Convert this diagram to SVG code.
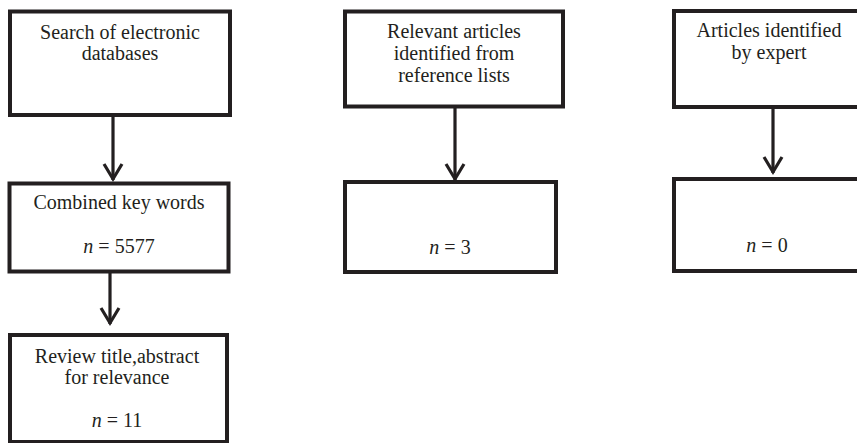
<svg xmlns="http://www.w3.org/2000/svg" width="857" height="443" viewBox="0 0 857 443">
<style>
.box{fill:#fff;stroke:#231f20;stroke-width:4}
.t{font-family:"Liberation Serif","Times New Roman",serif;font-size:20px;fill:#231f20;text-anchor:middle}
.i{font-style:italic}
.c{fill:none;stroke:#231f20;stroke-width:3.2}
</style>
<defs>
<marker id="ah" markerWidth="22" markerHeight="26" viewBox="-19 -13 22 26" refX="0" refY="0" orient="auto" markerUnits="userSpaceOnUse">
<path d="M-16,-9 L-1,0 L-16,9" fill="none" stroke="#231f20" stroke-width="3.2"/>
</marker>
</defs>
<rect width="857" height="443" fill="#fff"/>
<g id="connectors">
<line class="c" x1="113" y1="117" x2="113" y2="180" marker-end="url(#ah)"/>
<line class="c" x1="110" y1="273" x2="110" y2="324" marker-end="url(#ah)"/>
<line class="c" x1="455" y1="108" x2="455" y2="180" marker-end="url(#ah)"/>
<line class="c" x1="773" y1="108" x2="773" y2="173" marker-end="url(#ah)"/>
</g>
<g id="n1">
<rect class="box" x="10" y="11.5" width="220" height="103.5"/>
<text class="t" x="120" y="39">Search of electronic</text>
<text class="t" x="120" y="60">databases</text>
</g>
<g id="n2">
<rect class="box" x="9.5" y="183.5" width="219" height="88"/>
<text class="t" x="119" y="209">Combined key words</text>
<text class="t" x="119" y="253"><tspan class="i">n</tspan> = 5577</text>
</g>
<g id="n3">
<rect class="box" x="10" y="335" width="217" height="107"/>
<text class="t" x="117" y="363">Review title,abstract</text>
<text class="t" x="117" y="384">for relevance</text>
<text class="t" x="117" y="427"><tspan class="i">n</tspan> = 11</text>
</g>
<g id="n4">
<rect class="box" x="345" y="11.5" width="218" height="95"/>
<text class="t" x="454" y="38">Relevant articles</text>
<text class="t" x="454" y="60">identified from</text>
<text class="t" x="454" y="82">reference lists</text>
</g>
<g id="n5">
<rect class="box" x="345" y="182" width="211" height="90"/>
<text class="t" x="450" y="254"><tspan class="i">n</tspan> = 3</text>
</g>
<g id="n6">
<rect class="box" x="674" y="11" width="200" height="96"/>
<text class="t" x="769" y="37">Articles identified</text>
<text class="t" x="769" y="59">by expert</text>
</g>
<g id="n7">
<rect class="box" x="674" y="179" width="200" height="92"/>
<text class="t" x="767" y="252"><tspan class="i">n</tspan> = 0</text>
</g>
</svg>
